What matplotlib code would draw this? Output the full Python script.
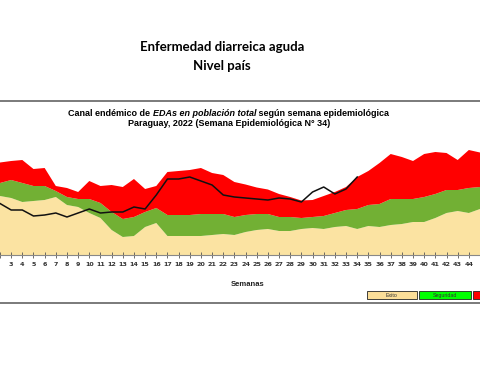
import numpy as np
import matplotlib
matplotlib.use("Agg")
import matplotlib.pyplot as plt
from matplotlib.patches import Rectangle
from matplotlib.lines import Line2D

# semanas epidemiologicas
semanas = list(range(2, 46))

# limites del canal endemico
exito = [59, 57, 53, 54, 55, 58, 50, 48, 42, 37, 25, 18, 19, 28, 32, 19, 19, 19, 19, 20,
         21, 20, 23, 25, 26, 24, 24, 26, 27, 26, 28, 29, 26, 29, 28, 30, 31, 33, 33, 37,
         42, 44, 42, 46]
seguridad = [72, 75, 72, 69, 69, 64, 58, 56, 56, 52, 43, 36, 38, 43, 47, 40, 40, 40, 41, 41,
             41, 38, 40, 41, 41, 38, 38, 37, 38, 39, 42, 45, 46, 50, 51, 56, 56, 56, 58, 61,
             65, 65, 67, 68]
alerta = [92.5, 94, 95, 86, 87, 69, 67, 63, 74, 69, 70, 68, 76, 66, 69, 83, 84, 85, 87, 82,
          80, 73, 70.5, 67.5, 65.5, 61, 58, 54.5, 55, 59, 63, 68, 78, 84, 92, 101, 98, 94, 101, 103,
          102, 95, 105, 102.5]

# casos 2022 hasta la semana 34
semanas_2022 = list(range(2, 35))
casos_2022 = [51.5, 45, 45, 39, 40, 42, 38, 42, 46, 42, 43, 43, 48, 46, 60, 76, 76, 78, 74, 70,
              60, 58, 57, 56, 55, 57, 56, 53, 63, 68, 61, 66, 78]

W, H = 480, 384
fig = plt.figure(figsize=(W / 100, H / 100), dpi=100)


def fx(px):
    return px / W


def fy(py):
    return 1 - py / H


# encabezado
fig.text(fx(222), fy(47), "Enfermedad diarreica aguda", ha="center", va="center",
         fontsize=9.5, fontweight="bold", family="Lato")
fig.text(fx(222), fy(66), "Nivel país", ha="center", va="center",
         fontsize=9.5, fontweight="bold", family="Lato")

# lineas separadoras
fig.add_artist(Line2D([0, 1], [fy(101), fy(101)], color="#707070", lw=1.3))
fig.add_artist(Line2D([0, 1], [fy(303), fy(303)], color="#707070", lw=1.3))

ax = fig.add_axes([0, fy(255), 1, 125 / H])
x = np.array(semanas)
ax.fill_between(x, 0, exito, color="#FBE3A2", lw=0)
ax.fill_between(x, exito, seguridad, color="#72B034", lw=0)
ax.fill_between(x, seguridad, alerta, color="#FF0000", lw=0)
ax.plot(semanas_2022, casos_2022, color="#111111", lw=1.1)

ax.set_xlim(2.38, 44.7)
ax.set_ylim(0, 125)
ax.set_xticks(semanas)
# las semanas 2 y 45 quedan fuera del recorte
ax.set_xticklabels(["" if s in (2, 45) else str(s) for s in semanas])
ax.tick_params(axis="x", direction="inout", length=4, width=0.6, color="#555555",
               labelsize=4.6, labelcolor="#333333", pad=3)
for lab in ax.get_xticklabels():
    lab.set_fontweight("bold")
ax.set_yticks([])
for side in ["top", "left", "right"]:
    ax.spines[side].set_visible(False)
ax.spines["bottom"].set_color("#888888")
ax.spines["bottom"].set_linewidth(0.8)
ax.patch.set_alpha(0)

# titulo del grafico con partes en cursiva
renderer = fig.canvas.get_renderer()


def mixed_line(parts, cx, py, size):
    texts = []
    for s, style in parts:
        t = fig.text(0, fy(py), s, ha="left", va="center", fontsize=size,
                     fontweight="bold", fontstyle=style, family="Liberation Sans")
        texts.append(t)
    widths = [t.get_window_extent(renderer).width for t in texts]
    total = sum(widths)
    x0 = cx - total / 2
    for t, w in zip(texts, widths):
        t.set_x(fx(x0))
        x0 += w


mixed_line([("Canal endémico de ", "normal"), ("EDAs en población total", "italic"),
            (" según semana epidemiológica", "normal")], 229, 113, 6.5)
mixed_line([("Paraguay, 2022 (Semana Epidemiológica N° 34)", "normal")], 229, 124, 6.5)

fig.text(fx(248), fy(284), "Semanas", ha="center", va="center", fontsize=5.5,
         fontweight="bold", family="Liberation Sans", color="#222222")

# leyenda (el tercer cuadro queda cortado en el borde)
leyenda = [("Exito", "#FBDE98", 367, 417), ("Seguridad", "#00FF00", 419, 471),
           ("", "#FF0000", 473, 525)]
for nombre, col, x0, x1 in leyenda:
    fig.add_artist(Rectangle((fx(x0), fy(299)), fx(x1 - x0), (299 - 291) / H,
                             facecolor=col, edgecolor="#222222", lw=0.6))
    if nombre:
        fig.text(fx((x0 + x1) / 2), fy(295.3), nombre, ha="center", va="center",
                 fontsize=3.8, family="Liberation Sans", color="#333333")

fig.savefig("out.png", dpi=100)
